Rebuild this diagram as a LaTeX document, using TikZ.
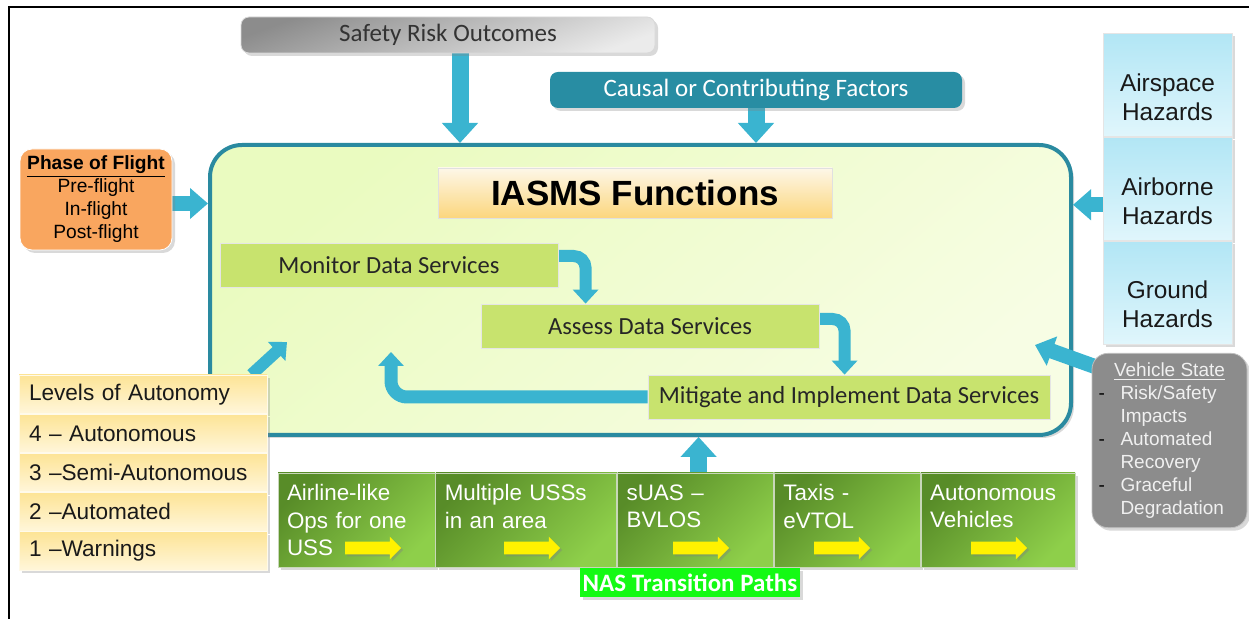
\documentclass[tikz,border=0pt]{standalone}
\usepackage{fontspec}
\setmainfont{Liberation Sans}
\newfontfamily\carlito{Carlito}
\usetikzlibrary{arrows.meta, positioning, shapes.arrows, shadows, backgrounds}

\definecolor{flowcyan}{RGB}{58,180,208}
\definecolor{frameteal}{RGB}{42,138,160}
\definecolor{frameA}{RGB}{234,251,192}
\definecolor{frameB}{RGB}{247,253,228}
\definecolor{titleA}{RGB}{253,247,232}
\definecolor{titleB}{RGB}{252,214,125}
\definecolor{svcgreen}{RGB}{200,227,110}
\definecolor{causalteal}{RGB}{40,141,163}
\definecolor{phaseorange}{RGB}{249,166,95}
\definecolor{stategray}{RGB}{140,140,140}
\definecolor{hazA}{RGB}{178,230,245}
\definecolor{hazB}{RGB}{224,246,252}
\definecolor{lvlA}{RGB}{253,228,150}
\definecolor{lvlB}{RGB}{255,246,218}
\definecolor{nasdark}{RGB}{88,140,40}
\definecolor{naslight}{RGB}{142,207,74}
\definecolor{nasline}{RGB}{200,215,185}
\definecolor{nasbright}{RGB}{20,250,20}

\pgfdeclarelayer{middle}
\pgfsetlayers{background,middle,main}

\tikzstyle{softshadow} = [drop shadow={opacity=0.3, shadow xshift=1.5pt, shadow yshift=-1.5pt}]
\tikzstyle{iasmsbox} = [rectangle, rounded corners=16pt, minimum width=430.5pt, minimum height=145pt, draw=frameteal, line width=2pt, top color=frameA, bottom color=frameB, shading angle=40, softshadow]
\tikzstyle{headline} = [rectangle, minimum width=197pt, minimum height=25pt, draw=black!12, top color=titleA, bottom color=titleB, font=\bfseries\fontsize{17.5}{20}\selectfont]
\tikzstyle{svcbox} = [rectangle, minimum height=22pt, draw=black!10, fill=svcgreen, text=black!85, font=\carlito\fontsize{12.3}{14}\selectfont]
\tikzstyle{topbox} = [rectangle, rounded corners=4pt, minimum height=18pt, font=\carlito\fontsize{12.5}{14}\selectfont, softshadow]
\tikzstyle{phasebox} = [rectangle, rounded corners=6pt, minimum width=76pt, minimum height=50.5pt, fill=phaseorange, draw=white, align=center, font=\fontsize{9.6}{11.5}\selectfont, softshadow]
\tikzstyle{hazcell} = [rectangle, minimum width=64.5pt, minimum height=51.5pt, top color=hazA, bottom color=hazB, draw=black!10, align=center, text=black!90, font=\fontsize{12.2}{14.5}\selectfont, softshadow]
\tikzstyle{statebox} = [rectangle, rounded corners=8pt, minimum width=77.5pt, minimum height=85.5pt, inner xsep=0pt, fill=stategray, draw=black!25, text=white!94!black, font=\fontsize{9.5}{11.5}\selectfont, softshadow]
\tikzstyle{lvlrow} = [rectangle, minimum height=19.2pt, text width=114pt, inner xsep=5pt, align=left, top color=lvlA, bottom color=lvlB, draw=white!80!lvlA, text=black!90, font=\fontsize{11.3}{13}\selectfont, softshadow]
\tikzstyle{pathcell} = [rectangle, minimum height=47pt, inner xsep=4.5pt, align=left, top color=nasdark, bottom color=naslight, shading angle=45, draw=nasline, text=white, font=\fontsize{11.2}{13.75}\selectfont, softshadow]
\tikzstyle{yarrow} = [single arrow, single arrow head extend=2.5pt, minimum height=28pt, inner xsep=0pt, inner ysep=3pt, fill=yellow, drop shadow={opacity=0.4, shadow xshift=1pt, shadow yshift=-1pt}]
\tikzstyle{naslabel} = [rectangle, minimum width=110pt, minimum height=14.5pt, inner sep=0pt, fill=nasbright, text=white, font=\carlito\bfseries\fontsize{12.5}{14}\selectfont, softshadow]
\tikzstyle{bigflow} = [line width=8.5pt, draw=flowcyan, -{Triangle[length=10pt, width=17.5pt]}]
\tikzstyle{midflow} = [line width=7.5pt, draw=flowcyan, -{Triangle[length=9pt, width=15pt]}]
\tikzstyle{loopflow} = [line width=6pt, draw=flowcyan, rounded corners=6pt, -{Triangle[length=7pt, width=12.5pt]}]
\newcommand{\hazdrop}{\rule{0pt}{21pt}}

\begin{document}
\begin{tikzpicture}[x=0.5pt, y=-0.5pt]
\useasboundingbox (0,0) rectangle (1249,619);
\draw[line width=0.8pt] (9,619) -- (9,7) -- (1249,7);

% IASMS frame
\begin{pgfonlayer}{background}
\node[iasmsbox] (main) at (640.5,290) {};
\end{pgfonlayer}
\node[headline] (title) at (635,193) {IASMS Functions};

% data services
\node[svcbox, minimum width=169pt] (monitor) at (389,265) {Monitor Data Services};
\node[svcbox, minimum width=169pt] (assess) at (650,326) {Assess Data Services};
\node[svcbox, minimum width=201pt] (mitigate) at (849,397) {Mitigate and Implement Data Services};

% inputs from above
\node[topbox, minimum width=207pt, top color=black!45, bottom color=black!8, shading angle=20, draw=black!15, text=black!80] (safety) at (448,35) {Safety Risk Outcomes};
\node[topbox, minimum width=206pt, fill=causalteal, text=white] (causal) at (756,90) {Causal or Contributing Factors};

% phase of flight
\node[phasebox] (phase) at (96,199.5) {\textbf{\underline{Phase of Flight}}\\Pre-flight\\In-flight\\Post-flight};

% hazards
\node[hazcell] (airspace) at (1167.5,85) {\hazdrop Airspace\\Hazards};
\node[hazcell, below=0pt of airspace] (airborne) {\hazdrop Airborne\\Hazards};
\node[hazcell, below=0pt of airborne] (ground) {\hazdrop Ground\\Hazards};

% vehicle state
\node[statebox] (vehicle) at (1169.5,440.5) {%
\begin{tabular}{@{}p{11pt}@{}p{60pt}@{}}
\multicolumn{2}{@{}c@{}}{\underline{Vehicle State}}\\
\textcolor{black}{-} & Risk/Safety\\
 & Impacts\\
\textcolor{black}{-} & Automated\\
 & Recovery\\
\textcolor{black}{-} & Graceful\\
 & Degradation
\end{tabular}};

% levels of autonomy
\node[lvlrow] (lvl0) at (143,394.2) {Levels of Autonomy};
\node[lvlrow, below=0pt of lvl0] (lvl4) {4 -- Autonomous};
\node[lvlrow, below=0pt of lvl4] (lvl3) {3 --Semi-Autonomous};
\node[lvlrow, below=0pt of lvl3] (lvl2) {2 --Automated};
\node[lvlrow, below=0pt of lvl2] (lvl1) {1 --Warnings};

% NAS transition paths
\node[pathcell, text width=69.5pt] (ops) at (356.5,520) {Airline-like\\Ops for one\\USS};
\node[pathcell, text width=81.5pt, right=0pt of ops] (multi) {Multiple USSs\\in an area\\~};
\node[pathcell, text width=69pt, right=0pt of multi] (suas) {sUAS --\\BVLOS\\~};
\node[pathcell, text width=64pt, right=0pt of suas] (taxi) {Taxis -\\eVTOL\\~};
\node[pathcell, text width=68pt, right=0pt of taxi] (auto) {Autonomous\\Vehicles\\~};
\node[yarrow] (go1) at (370,548) {};
\node[yarrow] (go2) at (529,548) {};
\node[yarrow] (go3) at (698,548) {};
\node[yarrow] (go4) at (839,548) {};
\node[yarrow] (go5) at (996,548) {};
\node[naslabel] (nas) at (690,582.5) {NAS Transition Paths};

% flows into and inside the frame
\begin{pgfonlayer}{middle}
\draw[bigflow] ([xshift=6pt]safety.south) -- ([xshift=6pt]safety.south |- main.north);
\draw[bigflow] (causal.south) -- (causal.south |- main.north);
\draw[midflow] ([yshift=-2pt]phase.east) -- ([yshift=-2pt]phase.east -| main.west);
\draw[midflow] ([yshift=-8pt]airborne.west) -- ([yshift=-8pt]airborne.west -| main.east);
\coordinate (vsin) at (1035,345);
\draw[midflow] ([xshift=5pt,yshift=-8pt]vehicle.north west) -- (vsin);
\coordinate (lvlin) at (287,342);
\draw[loopflow] ([xshift=-8pt]lvl0.north east) -- (lvlin);
\draw[bigflow] ([xshift=1.5pt]suas.north) -- ([xshift=1.5pt]suas.north |- main.south);
\draw[loopflow] ([yshift=4.5pt]monitor.east) -| ([xshift=52.5pt]assess.north west);
\draw[loopflow] ([yshift=3.5pt]assess.east) -| ([xshift=98.5pt]mitigate.north west);
\coordinate (loopin) at (391,352);
\draw[loopflow, line width=6.5pt, rounded corners=8pt] (mitigate.west) -| (loopin);
\end{pgfonlayer}

\end{tikzpicture}
\end{document}
